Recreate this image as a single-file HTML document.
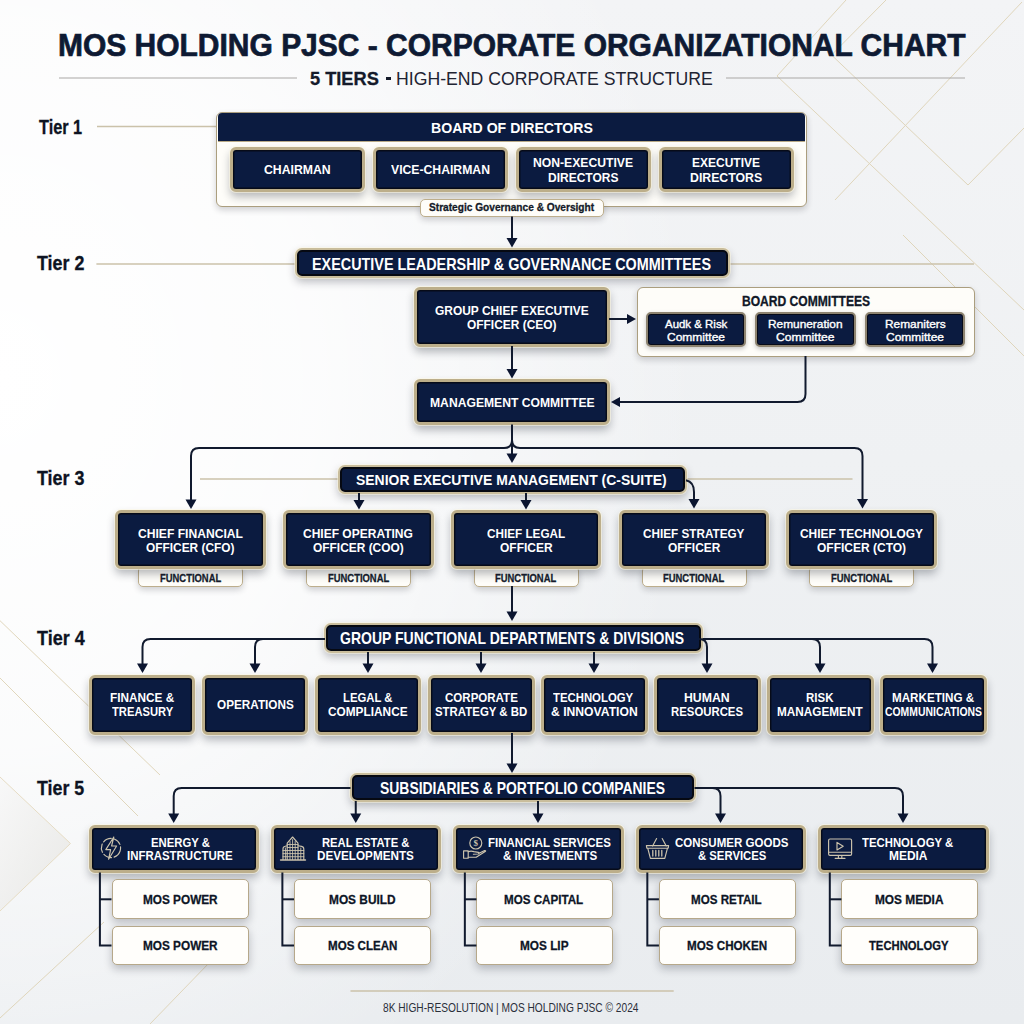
<!DOCTYPE html>
<html><head><meta charset="utf-8"><style>
html,body{margin:0;padding:0}
body{width:1024px;height:1024px;position:relative;overflow:hidden;font-family:"Liberation Sans",sans-serif;
background:radial-gradient(700px 800px at 0px 380px,rgba(255,255,255,1) 0%,rgba(255,255,255,.8) 45%,rgba(255,255,255,0) 100%),linear-gradient(180deg,#f3f4f6 0%,#eff1f3 45%,#e9ecef 100%)}
.deco,.conn{position:absolute;left:0;top:0}
.nv{position:absolute;box-sizing:border-box;background:#0b1b40;border:3px solid #bcae8a;
box-shadow:inset 0 0 0 1.4px #070b18,0 0 0 1px rgba(255,250,225,.55),0 5px 9px rgba(20,25,40,.3)}
.ban{border-width:2.2px;border-color:#c9bd9c;box-shadow:inset 0 0 0 2px #060912,0 0 0 1px rgba(255,250,225,.5),0 4px 8px rgba(20,25,40,.28)}
.com{border-width:2px;border-color:#8e8470;box-shadow:inset 0 0 0 1px #070b18,0 2px 4px rgba(30,30,40,.25)}
.cr{position:absolute;box-sizing:border-box;background:#fefdf9;border:1.8px solid #bdae8c;box-shadow:0 3px 6px rgba(30,30,40,.2)}
.board{border-color:#ab9e7e}
.kid{border-width:1.7px;border-color:#b6a88a;background:#fffefb;box-shadow:0 4px 8px rgba(20,25,40,.25)}
.bhead{position:absolute;box-sizing:border-box;background:#0b1b40;border-radius:4px 4px 0 0;border-bottom:1.2px solid #b9aa86}
.t{position:absolute;white-space:nowrap;line-height:normal;transform-origin:0 0}
</style></head><body>
<svg class="deco" width="1024" height="1024" viewBox="0 0 1024 1024">
<defs><linearGradient id="tri" x1="0" y1="0" x2="1" y2="1"><stop offset="0" stop-color="#f7f7f7"/><stop offset="1" stop-color="#e3e2de"/></linearGradient></defs>
<polygon points="0,777 70.5,843.5 0,911" fill="url(#tri)" opacity="0.7"/>
<path d="M0,777 L70.5,843.5 L0,911" stroke="#e6dcc4" stroke-width="1" fill="none"/>
<g stroke="#ddd1b2" stroke-width="1" fill="none" opacity="0.85">
<path d="M846,0 L777,76 L1024,310"/>
<path d="M886,0 L831.5,55 L968,185 L1024,128"/>
<path d="M1022,2 L835,200"/>
<path d="M903,235 L1024,356"/>
<path d="M0,620.7 L160,775"/>
<path d="M0,678 L138,816"/>
<path d="M0,1018 L104,922"/>
<path d="M150,1024 L210,962"/>
</g>
<g stroke="#a9a8a6" stroke-width="1.2"><path d="M59,78 H297"/><path d="M726,78 H965"/></g>
<g stroke="#cbc2aa" stroke-width="1.5">
<path d="M97,126.5 H217"/>
<path d="M96.4,264 H295.5"/><path d="M729,264 H974"/>
<path d="M200,479 H338"/><path d="M686.5,479 H852.5"/>
<path d="M350.5,991 H673.7"/>
</g>
</svg>
<div style="position:absolute;left:385.6px;top:77px;width:5.6px;height:2.6px;background:#141a2a"></div><div class="cr board" style="left:216.4px;top:111.6px;width:590.2px;height:95.0px;border-radius:6px"></div><div class="bhead" style="left:218.2px;top:113.4px;width:586.6px;height:28.2px"></div><div class="nv" style="left:230.2px;top:146.7px;width:134.8px;height:45.1px;border-radius:6px"></div><div class="nv" style="left:372.9px;top:146.7px;width:135.1px;height:45.1px;border-radius:6px"></div><div class="nv" style="left:515.9px;top:146.7px;width:135.2px;height:45.1px;border-radius:6px"></div><div class="nv" style="left:658.8px;top:146.7px;width:135.0px;height:45.1px;border-radius:6px"></div><div class="cr lab" style="left:420.0px;top:198.6px;width:184.4px;height:18.2px;border-radius:5px"></div><div class="nv ban" style="left:294.5px;top:248.3px;width:435.0px;height:29.9px;border-radius:7px"></div><div class="nv" style="left:414.2px;top:287.3px;width:195.6px;height:59.9px;border-radius:6px"></div><div class="cr board" style="left:637.2px;top:287.4px;width:337.7px;height:69.3px;border-radius:6px"></div><div class="nv com" style="left:645.8px;top:312.4px;width:100.7px;height:35.0px;border-radius:5px"></div><div class="nv com" style="left:755.0px;top:312.4px;width:101.0px;height:35.0px;border-radius:5px"></div><div class="nv com" style="left:864.5px;top:312.4px;width:100.5px;height:35.0px;border-radius:5px"></div><div class="nv" style="left:414.4px;top:379.4px;width:195.4px;height:45.4px;border-radius:6px"></div><div class="nv ban" style="left:337.7px;top:464.5px;width:349.2px;height:29.8px;border-radius:7px"></div><div class="cr tab" style="left:137.9px;top:566.0px;width:105.0px;height:20.5px;border-radius:5px"></div><div class="nv" style="left:115.1px;top:510.2px;width:150.6px;height:59.3px;border-radius:6px"></div><div class="cr tab" style="left:305.9px;top:566.0px;width:105.0px;height:20.5px;border-radius:5px"></div><div class="nv" style="left:283.1px;top:510.2px;width:150.6px;height:59.3px;border-radius:6px"></div><div class="cr tab" style="left:473.7px;top:566.0px;width:105.0px;height:20.5px;border-radius:5px"></div><div class="nv" style="left:450.9px;top:510.2px;width:150.6px;height:59.3px;border-radius:6px"></div><div class="cr tab" style="left:641.7px;top:566.0px;width:105.0px;height:20.5px;border-radius:5px"></div><div class="nv" style="left:618.9px;top:510.2px;width:150.6px;height:59.3px;border-radius:6px"></div><div class="cr tab" style="left:809.1px;top:566.0px;width:105.0px;height:20.5px;border-radius:5px"></div><div class="nv" style="left:786.3px;top:510.2px;width:150.6px;height:59.3px;border-radius:6px"></div><div class="nv ban" style="left:324.4px;top:623.1px;width:378.2px;height:30.1px;border-radius:7px"></div><div class="nv" style="left:88.8px;top:674.7px;width:106.6px;height:60.3px;border-radius:6px"></div><div class="nv" style="left:201.9px;top:674.7px;width:106.6px;height:60.3px;border-radius:6px"></div><div class="nv" style="left:314.9px;top:674.7px;width:106.6px;height:60.3px;border-radius:6px"></div><div class="nv" style="left:428.0px;top:674.7px;width:106.6px;height:60.3px;border-radius:6px"></div><div class="nv" style="left:541.0px;top:674.7px;width:106.6px;height:60.3px;border-radius:6px"></div><div class="nv" style="left:654.1px;top:674.7px;width:106.6px;height:60.3px;border-radius:6px"></div><div class="nv" style="left:767.2px;top:674.7px;width:106.6px;height:60.3px;border-radius:6px"></div><div class="nv" style="left:880.2px;top:674.7px;width:106.6px;height:60.3px;border-radius:6px"></div><div class="nv ban" style="left:349.9px;top:772.9px;width:345.9px;height:29.4px;border-radius:7px"></div><div class="nv" style="left:88.5px;top:824.7px;width:170.2px;height:47.9px;border-radius:6px"></div><div class="cr kid" style="left:111.5px;top:879.4px;width:137.0px;height:39.2px;border-radius:5px"></div><div class="cr kid" style="left:111.5px;top:926.1px;width:137.0px;height:39.3px;border-radius:5px"></div><div class="nv" style="left:271.0px;top:824.7px;width:170.2px;height:47.9px;border-radius:6px"></div><div class="cr kid" style="left:294.0px;top:879.4px;width:137.0px;height:39.2px;border-radius:5px"></div><div class="cr kid" style="left:294.0px;top:926.1px;width:137.0px;height:39.3px;border-radius:5px"></div><div class="nv" style="left:453.4px;top:824.7px;width:170.2px;height:47.9px;border-radius:6px"></div><div class="cr kid" style="left:476.4px;top:879.4px;width:137.0px;height:39.2px;border-radius:5px"></div><div class="cr kid" style="left:476.4px;top:926.1px;width:137.0px;height:39.3px;border-radius:5px"></div><div class="nv" style="left:635.9px;top:824.7px;width:170.2px;height:47.9px;border-radius:6px"></div><div class="cr kid" style="left:658.9px;top:879.4px;width:137.0px;height:39.2px;border-radius:5px"></div><div class="cr kid" style="left:658.9px;top:926.1px;width:137.0px;height:39.3px;border-radius:5px"></div><div class="nv" style="left:818.4px;top:824.7px;width:170.2px;height:47.9px;border-radius:6px"></div><div class="cr kid" style="left:841.4px;top:879.4px;width:137.0px;height:39.2px;border-radius:5px"></div><div class="cr kid" style="left:841.4px;top:926.1px;width:137.0px;height:39.3px;border-radius:5px"></div>
<svg class="conn" width="1024" height="1024" viewBox="0 0 1024 1024"><g fill="none" stroke="#111a2e" stroke-width="2" stroke-linecap="butt"><path d="M512,216.5 V240"/><path d="M512,346 V371"/><path d="M609,319 H628"/><path d="M805.5,356 V394 Q805.5,402 797.5,402 H619"/><path d="M512,424.5 V448 "/><path d="M512,440 Q512,448 504,448 H199 Q191,448 191,456 V500"/><path d="M512,440 Q512,448 520,448 H854.5 Q862.5,448 862.5,456 V499"/><path d="M512,448 V455"/><path d="M359,493 V501"/><path d="M526,493 V501"/><path d="M686,480.3 Q694,482 694,492 V500"/><path d="M512,586 V613"/><path d="M325,639 H150.5 Q142.5,639 142.5,647 V664"/><path d="M263,639 Q255,639 255,647 V664"/><path d="M368,652 V664"/><path d="M481,652 V664"/><path d="M594,652 V664"/><path d="M702.6,639 H924.5 Q932.5,639 932.5,647 V664"/><path d="M699,639 Q707,639 707,647 V664"/><path d="M812,639 Q820,639 820,647 V664"/><path d="M512,733 V765"/><path d="M350.5,788 H181.7 Q173.7,788 173.7,796 V814"/><path d="M355.75,801 V814"/><path d="M538,801 V814"/><path d="M694.5,788 H895 Q903,788 903,796 V814"/><path d="M712.5,788 Q720.5,788 720.5,796 V814"/><path d="M99.9,872.6 V945.5 H111.5"/><path d="M99.9,899.3 H111.5"/><path d="M282.375,872.6 V945.5 H293.975"/><path d="M282.375,899.3 H293.975"/><path d="M464.84999999999997,872.6 V945.5 H476.45"/><path d="M464.84999999999997,899.3 H476.45"/><path d="M647.3249999999999,872.6 V945.5 H658.925"/><path d="M647.3249999999999,899.3 H658.925"/><path d="M829.8,872.6 V945.5 H841.4"/><path d="M829.8,899.3 H841.4"/></g><g fill="#0b1530"><path d="M506.50,238.00 L517.50,238.00 L512.00,247.50 Z"/><path d="M506.50,369.00 L517.50,369.00 L512.00,378.50 Z"/><path d="M627.00,314.00 L627.00,324.00 L636.00,319.00 Z"/><path d="M620.00,397.00 L620.00,407.00 L611.00,402.00 Z"/><path d="M185.50,499.50 L196.50,499.50 L191.00,509.00 Z"/><path d="M857.00,499.00 L868.00,499.00 L862.50,508.50 Z"/><path d="M506.50,453.50 L517.50,453.50 L512.00,463.00 Z"/><path d="M353.50,500.00 L364.50,500.00 L359.00,509.50 Z"/><path d="M520.50,500.00 L531.50,500.00 L526.00,509.50 Z"/><path d="M688.50,499.00 L699.50,499.00 L694.00,508.50 Z"/><path d="M506.50,611.50 L517.50,611.50 L512.00,621.00 Z"/><path d="M137.00,663.50 L148.00,663.50 L142.50,673.00 Z"/><path d="M249.50,663.50 L260.50,663.50 L255.00,673.00 Z"/><path d="M362.50,663.50 L373.50,663.50 L368.00,673.00 Z"/><path d="M475.50,663.50 L486.50,663.50 L481.00,673.00 Z"/><path d="M588.50,663.50 L599.50,663.50 L594.00,673.00 Z"/><path d="M927.00,663.50 L938.00,663.50 L932.50,673.00 Z"/><path d="M701.50,663.50 L712.50,663.50 L707.00,673.00 Z"/><path d="M814.50,663.50 L825.50,663.50 L820.00,673.00 Z"/><path d="M506.50,763.50 L517.50,763.50 L512.00,773.00 Z"/><path d="M168.20,813.50 L179.20,813.50 L173.70,823.00 Z"/><path d="M350.25,813.50 L361.25,813.50 L355.75,823.00 Z"/><path d="M532.50,813.50 L543.50,813.50 L538.00,823.00 Z"/><path d="M897.50,813.50 L908.50,813.50 L903.00,823.00 Z"/><path d="M715.00,813.50 L726.00,813.50 L720.50,823.00 Z"/></g></svg>
<svg class="conn" width="1024" height="1024" viewBox="0 0 1024 1024"><g fill="none" stroke="#cdc4ad" stroke-width="1.15" stroke-linejoin="round" stroke-linecap="round">
<circle cx="111" cy="848" r="9.6" stroke-dasharray="8.5 2.6" transform="rotate(20 111 848)"/>
<path d="M113.8,837 L105.8,849.6 L110.6,849.6 L108.6,859.2 L116.6,846 L111.6,846 Z" fill="#0b1b40"/>
<path d="M280.6,860 H305.4" stroke-width="1.6"/>
<path d="M287.2,859.5 V843.2 L292.6,837 L298,843.2 V859.5"/>
<path d="M283,859.5 V848.8 Q283,846.6 285.2,846.2 L287.2,845.8"/>
<path d="M298,845.8 L301.6,846.4 Q303.8,846.8 303.8,849 V859.5"/>
<path d="M290,841.5 V859.5 M292.6,839.5 V859.5 M295.2,841.5 V859.5 M285.4,848 V859.5 M300.8,848 V859.5" stroke-width="0.9"/>
<path d="M283,850.5 H303.8 M283,853.6 H303.8 M283,856.7 H303.8 M287.2,847.5 H298 M287.2,844.5 H298" stroke-width="0.9"/>
<circle cx="475.8" cy="843" r="6"/>
<text x="475.8" y="846.3" font-family="Liberation Serif" font-size="9" font-weight="bold" fill="#cdc4ad" stroke="none" text-anchor="middle">$</text>
<path d="M463.6,850.8 H468.2 V858.2 H463.6 Z"/>
<path d="M468.2,851.6 Q471,850.6 474,851.6 L478.4,852.4 Q480,853 478.2,854 L473.4,854.2 M468.2,857.2 H476.2 L485.2,851.6 Q486.4,850.4 484.6,850.6 L478.6,853.4"/>
<path d="M652.6,846 L656.6,838.6 M662.2,838.6 L666.2,846"/>
<path d="M646.4,845.6 H668.6 L668.2,848.2 H646.8 Z"/>
<path d="M647.8,848.4 L650.4,858.4 H664.8 L667.4,848.4"/>
<path d="M652.8,850.4 V856 M655.8,850.4 V856 M658.8,850.4 V856 M661.8,850.4 V856" stroke-width="1.3"/>
<rect x="828.6" y="839" width="23" height="16.4" rx="1.4"/>
<path d="M829,852.2 H851.2"/>
<path d="M838.4,855.6 V857.8 M841.8,855.6 V857.8 M835.2,858.4 H845"/>
<path d="M837,842.4 V850 L843.2,846.2 Z"/>
</g></svg>
<span class="t" style="left:57.50px;top:27.68px;font-size:30.52px;font-weight:bold;color:#0e1a33;transform:scaleX(0.9822);-webkit-text-stroke:0.7px #0e1a33;">MOS HOLDING PJSC - CORPORATE ORGANIZATIONAL CHART</span><span class="t" style="left:310.45px;top:67.63px;font-size:18.75px;font-weight:bold;color:#141a2a;transform:scaleX(0.9713);-webkit-text-stroke:0.3px #141a2a;">5 TIERS</span><span class="t" style="left:396.09px;top:67.63px;font-size:18.75px;font-weight:normal;color:#1f2433;transform:scaleX(0.9424);">HIGH-END CORPORATE STRUCTURE</span><span class="t" style="left:38.84px;top:115.68px;font-size:19.91px;font-weight:bold;color:#0d1322;transform:scaleX(0.8185);-webkit-text-stroke:0.3px #0d1322;">Tier 1</span><span class="t" style="left:37.22px;top:253.21px;font-size:19.33px;font-weight:bold;color:#0d1322;transform:scaleX(0.9238);-webkit-text-stroke:0.3px #0d1322;">Tier 2</span><span class="t" style="left:37.22px;top:468.31px;font-size:19.33px;font-weight:bold;color:#0d1322;transform:scaleX(0.9258);-webkit-text-stroke:0.3px #0d1322;">Tier 3</span><span class="t" style="left:37.22px;top:627.04px;font-size:19.62px;font-weight:bold;color:#0d1322;transform:scaleX(0.9176);-webkit-text-stroke:0.3px #0d1322;">Tier 4</span><span class="t" style="left:37.22px;top:777.04px;font-size:19.62px;font-weight:bold;color:#0d1322;transform:scaleX(0.9086);-webkit-text-stroke:0.3px #0d1322;">Tier 5</span><span class="t" style="left:430.85px;top:118.75px;font-size:14.97px;font-weight:bold;color:#fff;transform:scaleX(0.9422);">BOARD OF DIRECTORS</span><span class="t" style="left:264.26px;top:162.08px;font-size:13.44px;font-weight:bold;color:#fff;transform:scaleX(0.9120);">CHAIRMAN</span><span class="t" style="left:391.00px;top:162.08px;font-size:13.44px;font-weight:bold;color:#fff;transform:scaleX(0.9079);">VICE-CHAIRMAN</span><span class="t" style="left:533.17px;top:154.95px;font-size:13.59px;font-weight:bold;color:#fff;transform:scaleX(0.8965);">NON-EXECUTIVE</span><span class="t" style="left:548.18px;top:169.64px;font-size:13.66px;font-weight:bold;color:#fff;transform:scaleX(0.8791);">DIRECTORS</span><span class="t" style="left:691.88px;top:154.95px;font-size:13.59px;font-weight:bold;color:#fff;transform:scaleX(0.8836);">EXECUTIVE</span><span class="t" style="left:689.76px;top:169.64px;font-size:13.66px;font-weight:bold;color:#fff;transform:scaleX(0.9000);">DIRECTORS</span><span class="t" style="left:428.80px;top:201.34px;font-size:11.34px;font-weight:bold;color:#141a28;transform:scaleX(0.8951);-webkit-text-stroke:0.3px #141a28;">Strategic Governance &amp; Oversight</span><span class="t" style="left:312.14px;top:255.53px;font-size:15.99px;font-weight:bold;color:#fff;transform:scaleX(0.8992);">EXECUTIVE LEADERSHIP &amp; GOVERNANCE COMMITTEES</span><span class="t" style="left:435.02px;top:303.16px;font-size:13.08px;font-weight:bold;color:#fff;transform:scaleX(0.9128);">GROUP CHIEF EXECUTIVE</span><span class="t" style="left:467.02px;top:317.16px;font-size:13.08px;font-weight:bold;color:#fff;transform:scaleX(0.9122);">OFFICER (CEO)</span><span class="t" style="left:741.53px;top:293.00px;font-size:13.81px;font-weight:bold;color:#111827;transform:scaleX(0.8748);-webkit-text-stroke:0.3px #111827;">BOARD COMMITTEES</span><span class="t" style="left:664.75px;top:318.13px;font-size:10.90px;font-weight:normal;color:#fff;transform:scaleX(1.0508);-webkit-text-stroke:0.35px #fff;">Audk &amp; Risk</span><span class="t" style="left:667.15px;top:330.63px;font-size:10.90px;font-weight:normal;color:#fff;transform:scaleX(1.1012);-webkit-text-stroke:0.35px #fff;">Committee</span><span class="t" style="left:768.30px;top:318.13px;font-size:10.90px;font-weight:normal;color:#fff;transform:scaleX(1.0897);-webkit-text-stroke:0.35px #fff;">Remuneration</span><span class="t" style="left:776.14px;top:330.63px;font-size:10.90px;font-weight:normal;color:#fff;transform:scaleX(1.1108);-webkit-text-stroke:0.35px #fff;">Committee</span><span class="t" style="left:884.55px;top:318.13px;font-size:10.90px;font-weight:normal;color:#fff;transform:scaleX(1.0910);-webkit-text-stroke:0.35px #fff;">Remaniters</span><span class="t" style="left:886.15px;top:330.63px;font-size:10.90px;font-weight:normal;color:#fff;transform:scaleX(1.1012);-webkit-text-stroke:0.35px #fff;">Committee</span><span class="t" style="left:429.77px;top:395.16px;font-size:13.08px;font-weight:bold;color:#fff;transform:scaleX(0.9287);">MANAGEMENT COMMITTEE</span><span class="t" style="left:355.72px;top:471.19px;font-size:15.26px;font-weight:bold;color:#fff;transform:scaleX(0.9143);">SENIOR EXECUTIVE MANAGEMENT (C-SUITE)</span><span class="t" style="left:138.27px;top:526.16px;font-size:13.08px;font-weight:bold;color:#fff;transform:scaleX(0.9261);">CHIEF FINANCIAL</span><span class="t" style="left:146.27px;top:540.16px;font-size:13.08px;font-weight:bold;color:#fff;transform:scaleX(0.9088);">OFFICER (CFO)</span><span class="t" style="left:159.58px;top:572.13px;font-size:10.90px;font-weight:bold;color:#151b2b;transform:scaleX(0.8647);-webkit-text-stroke:0.3px #151b2b;">FUNCTIONAL</span><span class="t" style="left:303.27px;top:526.16px;font-size:13.08px;font-weight:bold;color:#fff;transform:scaleX(0.9185);">CHIEF OPERATING</span><span class="t" style="left:312.77px;top:540.16px;font-size:13.08px;font-weight:bold;color:#fff;transform:scaleX(0.9115);">OFFICER (COO)</span><span class="t" style="left:327.58px;top:572.13px;font-size:10.90px;font-weight:bold;color:#151b2b;transform:scaleX(0.8647);-webkit-text-stroke:0.3px #151b2b;">FUNCTIONAL</span><span class="t" style="left:487.03px;top:526.16px;font-size:13.08px;font-weight:bold;color:#fff;transform:scaleX(0.8969);">CHIEF LEGAL</span><span class="t" style="left:499.52px;top:540.16px;font-size:13.08px;font-weight:bold;color:#fff;transform:scaleX(0.9167);">OFFICER</span><span class="t" style="left:495.38px;top:572.13px;font-size:10.90px;font-weight:bold;color:#151b2b;transform:scaleX(0.8647);-webkit-text-stroke:0.3px #151b2b;">FUNCTIONAL</span><span class="t" style="left:642.63px;top:526.16px;font-size:13.08px;font-weight:bold;color:#fff;transform:scaleX(0.8967);">CHIEF STRATEGY</span><span class="t" style="left:667.52px;top:540.16px;font-size:13.08px;font-weight:bold;color:#fff;transform:scaleX(0.9114);">OFFICER</span><span class="t" style="left:663.38px;top:572.13px;font-size:10.90px;font-weight:bold;color:#151b2b;transform:scaleX(0.8647);-webkit-text-stroke:0.3px #151b2b;">FUNCTIONAL</span><span class="t" style="left:799.82px;top:526.16px;font-size:13.08px;font-weight:bold;color:#fff;transform:scaleX(0.9104);">CHIEF TECHNOLOGY</span><span class="t" style="left:817.02px;top:540.16px;font-size:13.08px;font-weight:bold;color:#fff;transform:scaleX(0.9173);">OFFICER (CTO)</span><span class="t" style="left:830.78px;top:572.13px;font-size:10.90px;font-weight:bold;color:#151b2b;transform:scaleX(0.8647);-webkit-text-stroke:0.3px #151b2b;">FUNCTIONAL</span><span class="t" style="left:340.44px;top:629.53px;font-size:15.99px;font-weight:bold;color:#fff;transform:scaleX(0.8763);">GROUP FUNCTIONAL DEPARTMENTS &amp; DIVISIONS</span><span class="t" style="left:109.79px;top:691.32px;font-size:12.35px;font-weight:bold;color:#fff;transform:scaleX(0.9547);">FINANCE &amp;</span><span class="t" style="left:111.89px;top:704.57px;font-size:12.35px;font-weight:bold;color:#fff;transform:scaleX(0.9065);">TREASURY</span><span class="t" style="left:216.53px;top:697.82px;font-size:12.35px;font-weight:bold;color:#fff;transform:scaleX(0.9522);">OPERATIONS</span><span class="t" style="left:343.07px;top:691.32px;font-size:12.35px;font-weight:bold;color:#fff;transform:scaleX(0.9163);">LEGAL &amp;</span><span class="t" style="left:328.28px;top:704.57px;font-size:12.35px;font-weight:bold;color:#fff;transform:scaleX(0.9592);">COMPLIANCE</span><span class="t" style="left:444.54px;top:691.32px;font-size:12.35px;font-weight:bold;color:#fff;transform:scaleX(0.9342);">CORPORATE</span><span class="t" style="left:434.77px;top:704.57px;font-size:12.35px;font-weight:bold;color:#fff;transform:scaleX(0.9261);">STRATEGY &amp; BD</span><span class="t" style="left:553.39px;top:691.32px;font-size:12.35px;font-weight:bold;color:#fff;transform:scaleX(0.9200);">TECHNOLOGY</span><span class="t" style="left:550.51px;top:704.57px;font-size:12.35px;font-weight:bold;color:#fff;transform:scaleX(0.9848);">&amp; INNOVATION</span><span class="t" style="left:684.01px;top:691.32px;font-size:12.35px;font-weight:bold;color:#fff;transform:scaleX(0.9950);">HUMAN</span><span class="t" style="left:670.82px;top:704.57px;font-size:12.35px;font-weight:bold;color:#fff;transform:scaleX(0.9213);">RESOURCES</span><span class="t" style="left:806.31px;top:691.32px;font-size:12.35px;font-weight:bold;color:#fff;transform:scaleX(0.9305);">RISK</span><span class="t" style="left:776.79px;top:704.57px;font-size:12.35px;font-weight:bold;color:#fff;transform:scaleX(0.9534);">MANAGEMENT</span><span class="t" style="left:891.80px;top:691.32px;font-size:12.35px;font-weight:bold;color:#fff;transform:scaleX(0.9431);">MARKETING &amp;</span><span class="t" style="left:884.58px;top:704.57px;font-size:12.35px;font-weight:bold;color:#fff;transform:scaleX(0.8434);">COMMUNICATIONS</span><span class="t" style="left:380.47px;top:779.61px;font-size:15.63px;font-weight:bold;color:#fff;transform:scaleX(0.8906);">SUBSIDIARIES &amp; PORTFOLIO COMPANIES</span><span class="t" style="left:150.62px;top:834.74px;font-size:12.72px;font-weight:bold;color:#fff;transform:scaleX(0.8901);">ENERGY &amp;</span><span class="t" style="left:127.16px;top:848.49px;font-size:12.72px;font-weight:bold;color:#fff;transform:scaleX(0.9001);">INFRASTRUCTURE</span><span class="t" style="left:321.83px;top:834.74px;font-size:12.72px;font-weight:bold;color:#fff;transform:scaleX(0.8842);">REAL ESTATE &amp;</span><span class="t" style="left:317.30px;top:848.49px;font-size:12.72px;font-weight:bold;color:#fff;transform:scaleX(0.9202);">DEVELOPMENTS</span><span class="t" style="left:488.06px;top:834.74px;font-size:12.72px;font-weight:bold;color:#fff;transform:scaleX(0.9043);">FINANCIAL SERVICES</span><span class="t" style="left:502.54px;top:848.49px;font-size:12.72px;font-weight:bold;color:#fff;transform:scaleX(0.9125);">&amp; INVESTMENTS</span><span class="t" style="left:675.29px;top:834.74px;font-size:12.72px;font-weight:bold;color:#fff;transform:scaleX(0.9066);">CONSUMER GOODS</span><span class="t" style="left:697.80px;top:848.49px;font-size:12.72px;font-weight:bold;color:#fff;transform:scaleX(0.8902);">&amp; SERVICES</span><span class="t" style="left:862.39px;top:834.74px;font-size:12.72px;font-weight:bold;color:#fff;transform:scaleX(0.8918);">TECHNOLOGY &amp;</span><span class="t" style="left:889.03px;top:848.49px;font-size:12.72px;font-weight:bold;color:#fff;transform:scaleX(0.9390);">MEDIA</span><span class="t" style="left:142.79px;top:891.58px;font-size:13.44px;font-weight:bold;color:#0d1526;transform:scaleX(0.8767);-webkit-text-stroke:0.3px #0d1526;">MOS POWER</span><span class="t" style="left:142.79px;top:937.83px;font-size:13.44px;font-weight:bold;color:#0d1526;transform:scaleX(0.8767);-webkit-text-stroke:0.3px #0d1526;">MOS POWER</span><span class="t" style="left:328.79px;top:891.58px;font-size:13.44px;font-weight:bold;color:#0d1526;transform:scaleX(0.8828);-webkit-text-stroke:0.3px #0d1526;">MOS BUILD</span><span class="t" style="left:327.56px;top:937.83px;font-size:13.44px;font-weight:bold;color:#0d1526;transform:scaleX(0.8605);-webkit-text-stroke:0.3px #0d1526;">MOS CLEAN</span><span class="t" style="left:504.30px;top:891.58px;font-size:13.44px;font-weight:bold;color:#0d1526;transform:scaleX(0.8643);-webkit-text-stroke:0.3px #0d1526;">MOS CAPITAL</span><span class="t" style="left:520.04px;top:937.83px;font-size:13.44px;font-weight:bold;color:#0d1526;transform:scaleX(0.8779);-webkit-text-stroke:0.3px #0d1526;">MOS LIP</span><span class="t" style="left:691.30px;top:891.58px;font-size:13.44px;font-weight:bold;color:#0d1526;transform:scaleX(0.8630);-webkit-text-stroke:0.3px #0d1526;">MOS RETAIL</span><span class="t" style="left:686.80px;top:937.83px;font-size:13.44px;font-weight:bold;color:#0d1526;transform:scaleX(0.8656);-webkit-text-stroke:0.3px #0d1526;">MOS CHOKEN</span><span class="t" style="left:874.79px;top:891.58px;font-size:13.44px;font-weight:bold;color:#0d1526;transform:scaleX(0.8815);-webkit-text-stroke:0.3px #0d1526;">MOS MEDIA</span><span class="t" style="left:869.14px;top:937.83px;font-size:13.44px;font-weight:bold;color:#0d1526;transform:scaleX(0.8374);-webkit-text-stroke:0.3px #0d1526;">TECHNOLOGY</span><span class="t" style="left:382.59px;top:999.56px;font-size:13.08px;font-weight:normal;color:#2a2f3a;transform:scaleX(0.7779);">8K HIGH-RESOLUTION  | MOS HOLDING PJSC © 2024</span>
</body></html>
